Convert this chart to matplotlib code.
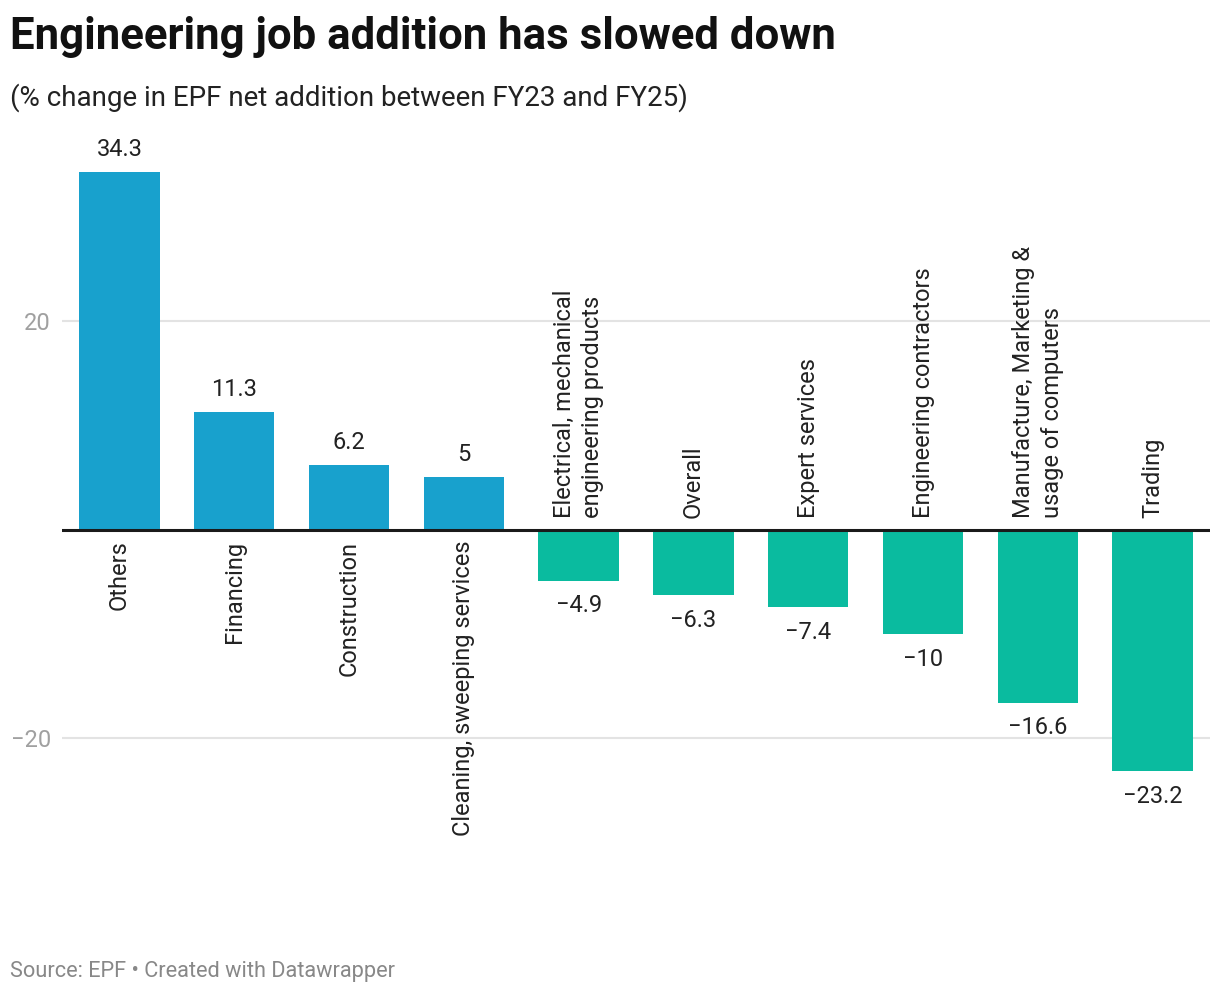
import matplotlib
matplotlib.use("Agg")
import matplotlib.pyplot as plt

plt.rcParams['font.family'] = ['Roboto', 'DejaVu Sans']

categories = ["Others", "Financing", "Construction", "Cleaning, sweeping services",
              "Electrical, mechanical\nengineering products", "Overall", "Expert services",
              "Engineering contractors", "Manufacture, Marketing &\nusage of computers", "Trading"]
values = [34.3, 11.3, 6.2, 5, -4.9, -6.3, -7.4, -10, -16.6, -23.2]
value_labels = ["34.3", "11.3", "6.2", "5", "\u22124.9", "\u22126.3", "\u22127.4", "\u221210", "\u221216.6", "\u221223.2"]
yticks = [-20, 20]
ytick_labels = ["\u221220", "20"]

POS = "#18a1cd"
NEG = "#0abb9f"

W, H = 1220, 994
fig = plt.figure(figsize=(W / 100, H / 100), dpi=100)
ax_top, ax_bot, ax_l, ax_r = 120, 900, 62, 1210
ax = fig.add_axes([ax_l / W, (H - ax_bot) / H, (ax_r - ax_l) / W, (ax_bot - ax_top) / H])
ppu = 10.425
zero_px = 529.5
ax.set_ylim(-(ax_bot - zero_px) / ppu, (zero_px - ax_top) / ppu)
ax.set_xlim(-0.5, len(categories) - 0.5)

x = list(range(len(categories)))
colors = [POS if v >= 0 else NEG for v in values]
ax.bar(x, values, width=0.7, color=colors, zorder=2)

for yv in yticks:
    ax.axhline(yv, color="#e3e3e3", lw=1.5, zorder=0)
ax.axhline(0, color="#1a1a1a", lw=2.2, zorder=3)

ax.set_yticks(yticks)
ax.set_yticklabels(ytick_labels)
ax.tick_params(axis='y', length=0, pad=8, labelsize=17, labelcolor="#a0a0a0")
ax.set_xticks([])
for s in ax.spines.values():
    s.set_visible(False)

FS = 17
for xi, v, lab, cat in zip(x, values, value_labels, categories):
    if v >= 0:
        ax.annotate(lab, (xi, v), xytext=(0, 8), textcoords="offset points",
                    ha="center", va="bottom", fontsize=FS, color="#222222")
        ax.annotate(cat, (xi, 0), xytext=(0, -8), textcoords="offset points",
                    ha="right", va="center", rotation=90, rotation_mode="anchor",
                    fontsize=FS, color="#222222", multialignment="left")
    else:
        ax.annotate(lab, (xi, v), xytext=(0, -10), textcoords="offset points",
                    ha="center", va="top", fontsize=FS, color="#222222")
        ax.annotate(cat, (xi, 0), xytext=(0, 8), textcoords="offset points",
                    ha="left", va="center", rotation=90, rotation_mode="anchor",
                    fontsize=FS, color="#222222", multialignment="left",
                    linespacing=1.3)

fig.text(10 / W, 1 - 37 / H, "Engineering job addition has slowed down", fontsize=31.5,
         fontweight="bold", ha="left", va="center", color="#111111")
fig.text(10 / W, 1 - 98 / H, "(% change in EPF net addition between FY23 and FY25)", fontsize=20,
         ha="left", va="center", color="#222222")
fig.text(10 / W, 1 - 971 / H, "Source: EPF \u2022 Created with Datawrapper", fontsize=15.7,
         ha="left", va="center", color="#888888")

fig.savefig("out.png", dpi=100)
